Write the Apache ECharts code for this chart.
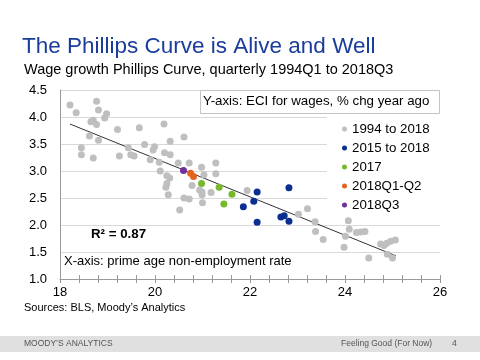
<!DOCTYPE html>
<html>
<head>
<meta charset="utf-8">
<script src="https://cdn.jsdelivr.net/npm/echarts@6/dist/echarts.min.js"></script>
<style>html,body{margin:0;padding:0;background:#fff;}#c{width:480px;height:360px;}</style>
</head>
<body>
<div id="c"></div>
<script>
// x: prime age non-employment rate, y: ECI wages % chg year ago
var seriesNames = ['1994 to 2018', '2015 to 2018', '2017', '2018Q1-Q2', '2018Q3'];
var grayPts = [
  [18.21,4.22],[18.34,4.08],[18.77,4.29],[18.81,4.13],[18.98,4.06],[18.94,3.98],
  [18.70,3.94],[18.65,3.91],[18.77,3.86],[19.21,3.77],[19.67,3.80],[18.62,3.65],
  [18.81,3.57],[18.45,3.43],[18.45,3.30],[18.70,3.24],[19.25,3.28],[19.78,3.49],
  [19.44,3.43],[19.49,3.30],[19.56,3.28],[19.99,3.45],[19.96,3.39],[19.90,3.21],
  [20.09,3.16],[20.11,3.00],[20.19,3.87],[20.32,3.55],[20.61,3.63],[20.20,3.34],
  [20.32,3.30],[20.49,3.15],[20.72,3.15],[21.28,3.15],[20.98,3.07],[20.25,2.91],
  [20.31,2.87],[20.25,2.77],[20.23,2.70],[20.28,2.56],[21.03,2.93],[21.28,2.95],
  [20.78,2.73],[20.94,2.65],[20.99,2.61],[20.99,2.56],[21.18,2.60],[21.94,2.64],
  [20.61,2.50],[20.72,2.48],[21.00,2.41],[20.52,2.28],[23.02,2.20],[23.21,2.30],
  [23.37,2.06],[23.38,1.88],[23.54,1.73],[24.07,2.08],[24.09,1.92],[24.01,1.79],
  [23.98,1.59],[24.24,1.86],[24.33,1.87],[24.42,1.88],[24.50,1.39],[24.75,1.65],
  [24.82,1.62],[24.88,1.66],[24.96,1.70],[25.06,1.72],[24.89,1.46],[25.00,1.39]
];
var bluePts = [[21.86,2.34],[22.08,2.44],[22.15,2.61],[22.82,2.69],[22.15,2.05],[22.65,2.15],[22.72,2.17],[22.82,2.07]];
var greenPts = [[20.98,2.77],[21.35,2.70],[21.62,2.57],[21.45,2.39]];
var orangePts = [[20.75,2.96],[20.81,2.90]];
var purplePts = [[20.60,3.01]];
var fitLine = [[18.21,3.87],[25.07,1.43]];
var xRange = [18, 26];
var yRange = [1.0, 4.5];

var FONT = '"Liberation Sans", Arial, sans-serif';
var chart = echarts.init(document.getElementById('c'), null, {renderer: 'canvas'});
var colors = ['#bfbfbf', '#0b2f8f', '#78b92c', '#e4631d', '#7030a0'];
function sc(name, data, color) {
  return {type: 'scatter', name: name, data: data, symbolSize: 7, z: 3,
    itemStyle: {color: color, opacity: 1}, emphasis: {disabled: true}};
}
var option = {
  animation: false,
  textStyle: {fontFamily: FONT},
  grid: {left: 60, right: 40, top: 90, bottom: 81, containLabel: false},
  xAxis: [{
    type: 'value', min: xRange[0], max: xRange[1], interval: 2,
    axisLine: {show: true, lineStyle: {color: '#9a9a9a'}},
    axisTick: {show: true, length: 4, lineStyle: {color: '#9a9a9a'}},
    minorTick: {show: true, splitNumber: 5, length: 4, lineStyle: {color: '#9a9a9a'}},
    splitLine: {show: false},
    axisLabel: {color: '#000', fontSize: 13, fontFamily: FONT, margin: 7}
  }, {
    type: 'value', min: xRange[0], max: xRange[1], interval: 2, position: 'bottom',
    axisLine: {show: false},
    axisTick: {show: true, inside: true, length: 4, lineStyle: {color: '#9a9a9a'}},
    minorTick: {show: true, splitNumber: 5, length: 4, lineStyle: {color: '#9a9a9a'}},
    splitLine: {show: false}, axisLabel: {show: false}
  }],
  yAxis: {
    type: 'value', min: yRange[0], max: yRange[1], interval: 0.5,
    axisLine: {show: true, lineStyle: {color: '#9a9a9a'}},
    axisTick: {show: false},
    splitLine: {show: true, lineStyle: {color: '#d9d9d9', width: 1}},
    axisLabel: {color: '#000', fontSize: 13, fontFamily: FONT, margin: 13,
      formatter: function (v) { return v.toFixed(1); }}
  },
  legend: {
    orient: 'vertical', left: 337, top: 117, itemWidth: 5, itemHeight: 5, itemGap: 5,
    icon: 'circle', selectedMode: false,
    data: seriesNames,
    textStyle: {fontSize: 13.3, color: '#000', fontFamily: FONT, lineHeight: 14}
  },
  graphic: [
    {type: 'rect', z: 1, shape: {x: 327, y: 117, width: 113, height: 95}, style: {fill: '#fff'}},
    {type: 'rect', z: 1, shape: {x: 200.5, y: 90.5, width: 239, height: 23}, style: {fill: '#fff', stroke: '#c4c4c4', lineWidth: 1}},
    {type: 'text', z: 2, left: 203, top: 95, style: {text: 'Y-axis: ECI for wages, % chg year ago', fontSize: 13.3, fontFamily: FONT, fill: '#000'}},
    {type: 'text', z: 2, left: 22, top: 35, style: {text: 'The Phillips Curve is Alive and Well', fontSize: 22.5, fontFamily: FONT, fill: '#1a3c9c'}},
    {type: 'text', z: 2, left: 24, top: 62, style: {text: 'Wage growth Phillips Curve, quarterly 1994Q1 to 2018Q3', fontSize: 14.5, fontFamily: FONT, fill: '#000'}},
    {type: 'text', z: 5, left: 91, top: 228, style: {text: 'R\u00b2 = 0.87', fontSize: 13.3, fontWeight: 'bold', fontFamily: FONT, fill: '#000'}},
    {type: 'text', z: 5, left: 64, top: 255, style: {text: 'X-axis: prime age non-employment rate', fontSize: 13, fontFamily: FONT, fill: '#000'}},
    {type: 'text', z: 2, left: 24, top: 302, style: {text: 'Sources: BLS, Moody\u2019s Analytics', fontSize: 11, fontFamily: FONT, fill: '#000'}},
    {type: 'rect', z: 1, shape: {x: 0, y: 336, width: 480, height: 16}, style: {fill: '#e0e0e0'}},
    {type: 'text', z: 2, left: 24, top: 339.5, style: {text: 'MOODY\u2019S ANALYTICS', fontSize: 8.5, fontFamily: FONT, fill: '#555'}},
    {type: 'text', z: 2, left: 341, top: 339.5, style: {text: 'Feeling Good (For Now)', fontSize: 8.5, fontFamily: FONT, fill: '#555'}},
    {type: 'text', z: 2, left: 452, top: 339.5, style: {text: '4', fontSize: 8.5, fontFamily: FONT, fill: '#555'}}
  ],
  series: [
    sc(seriesNames[0], grayPts, colors[0]),
    {type: 'line', data: fitLine, symbol: 'none', z: 3, silent: true,
      lineStyle: {color: '#333', width: 1}, legendHoverLink: false},
    sc(seriesNames[1], bluePts, colors[1]),
    sc(seriesNames[2], greenPts, colors[2]),
    sc(seriesNames[3], orangePts, colors[3]),
    sc(seriesNames[4], purplePts, colors[4])
  ]
};
chart.setOption(option);
</script>
</body>
</html>
